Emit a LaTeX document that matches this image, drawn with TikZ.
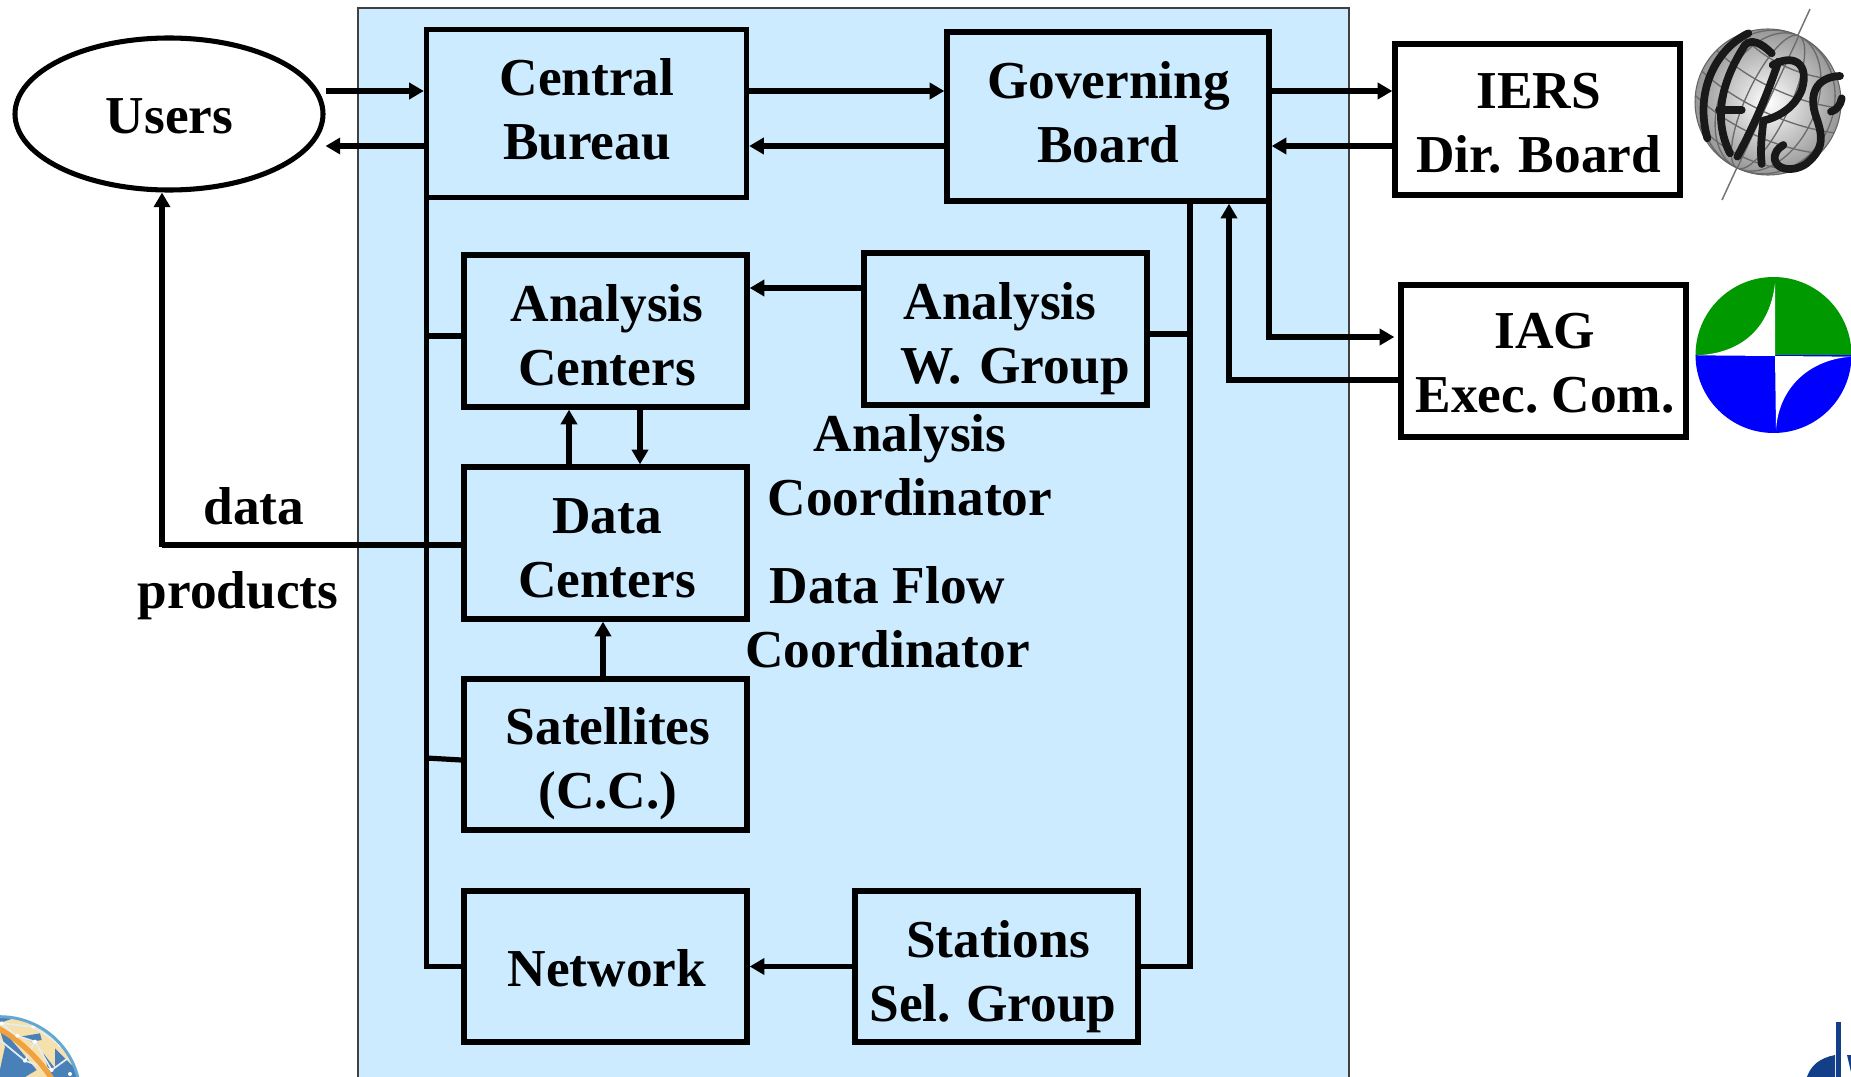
\documentclass[tikz,border=0pt]{standalone}
\usepackage{fontspec}
\setmainfont{Liberation Serif}
\usetikzlibrary{arrows.meta,shapes.geometric}
\definecolor{panelblue}{HTML}{CCEBFF}
\definecolor{iaggreen}{HTML}{009900}
\definecolor{iagblue}{HTML}{0000FF}
\definecolor{gocean}{HTML}{4A80B8}
\definecolor{gland}{HTML}{F6E0AC}
\definecolor{grim}{HTML}{62A8D2}
\definecolor{gband}{HTML}{EFA23F}
\definecolor{dnavy}{HTML}{123F88}
% text placed by its last baseline: dx right of and db below the node centre (px)
\newcommand\lbl[3]{\raisebox{\dimexpr-#2pt*3/4\relax}[0pt][0pt]{\makebox[0pt][l]{\kern\dimexpr#1pt*3/4\relax\makebox[0pt]{\begin{tabular}[b]{@{}c@{}}#3\end{tabular}}}}}
\newcommand\pk[1]{\kern\dimexpr#1pt*3/4\relax}
\tikzset{
  wh/.style 2 args={minimum width=#1*0.75pt,minimum height=#2*0.75pt},
  box/.style={draw=black,line width=4pt,rectangle,inner sep=0pt},
  wbox/.style={box,fill=white},
  free/.style={inner sep=0pt,outer sep=0pt,minimum size=0pt},
  conn/.style={line width=3.9pt,draw=black},
  arr/.style={conn,-{Triangle[length=11pt,width=12pt]}},
  every node/.style={font=\fontsize{40}{48}\selectfont\bfseries\frenchspacing,text=black},
}
\begin{document}
\begin{tikzpicture}[x=0.75pt,y=-0.75pt]
\useasboundingbox (0,0) rectangle (1851,1077);
\clip (0,0) rectangle (1851,1077);
% panel
\draw[fill=panelblue,draw=black!75,line width=1.6pt] (358,8) rectangle (1349,1090);
% boxes
\node[ellipse,draw=black,line width=3.8pt,inner sep=0pt,wh={308}{152}] (users) at (169,114) {\lbl{0.5}{19.5}{Users}};
\node[box,wh={320}{168}] (cb) at (586.5,113.5) {\lbl{0.5}{46.5}{Central\\Bureau}};
\node[box,wh={322}{169}] (gb) at (1108,116.5) {\lbl{0.5}{46}{Governing\\Board}};
\node[wbox,wh={285}{151}] (iers) at (1537.5,119.5) {\lbl{1}{53}{IERS\\Dir.\pk{4} Board}};
\node[wbox,wh={285}{152}] (iag) at (1543.5,361) {\lbl{1.5}{51}{IAG\\Exec. Com.}};
\node[box,wh={283}{152}] (ac) at (605.5,331) {\lbl{1.5}{54}{Analysis\\Centers}};
\node[box,wh={283}{152}] (awg) at (1005.5,329) {\lbl{9.5}{54}{Analysis\pk{30}\\W.\pk{4} Group}};
\node[box,wh={283}{152}] (dc) at (605.5,543) {\lbl{1.5}{54}{Data\\Centers}};
\node[box,wh={283}{151}] (sat) at (605.5,754.5) {\lbl{2.5}{54}{Satellites\\(C.C.)}};
\node[box,wh={283}{151}] (net) at (605.5,966.5) {\lbl{1.5}{19.5}{Network}};
\node[box,wh={283}{151}] (ssg) at (996.5,966.5) {\lbl{-3.5}{54.5}{\pk{10}Stations\\Sel.\pk{2} Group}};
% free labels
\node[free,anchor=base] (ldata) at (254,524) {data};
\node[free,anchor=base] (lprod) at (238,608) {products};
\node[free] (lac) at (910,515) {\lbl{0}{0}{Analysis\\Coordinator}};
\node[free] (ldf) at (887.5,667) {\lbl{0}{0}{Data Flow\\Coordinator}};
% connectors
\draw[arr] (users.east |- 0,91) -- (cb.west |- 0,91);
\draw[arr] (cb.west |- 0,146) -- (users.east |- 0,146);
\draw[arr] (cb.east |- 0,91) -- (gb.west |- 0,91);
\draw[arr] (gb.west |- 0,146) -- (cb.east |- 0,146);
\draw[arr] (gb.east |- 0,91) -- (iers.west |- 0,91);
\draw[arr] (iers.west |- 0,146) -- (gb.east |- 0,146);
\draw[arr,shorten >=3pt] (gb.south east) ++(-2.6,0) coordinate (gbr) -- (gbr |- 0,337) -- (iag.west |- 0,337);
\draw[arr] (iag.west |- 0,380) -- (1229,380) -- (1229,0 |- gb.south);
\draw[conn] (1190,0 |- gb.south) -- (1190,966.5) -- (ssg.east);
\draw[conn] (awg.east |- 0,334) -- (1190,334);
\draw[arr] (awg.west |- 0,288) -- (ac.east |- 0,288);
\draw[conn] (cb.south west) ++(2.6,-2) coordinate (cbl) -- (cbl |- net.west) -- (net.west);
\draw[conn] (cbl |- 0,336) -- (ac.west |- 0,336);
\draw[conn] (cbl |- 0,758) -- (sat.west |- 0,760);
\draw[conn] (dc.west |- 0,545) -- (162,545);
\draw[arr] (162,547) -- (162,0 |- users.south);
\draw[arr] (569,0 |- dc.north) -- (569,0 |- ac.south);
\draw[arr] (640,0 |- ac.south) -- (640,0 |- dc.north);
\draw[arr] (603,0 |- sat.north) -- (603,0 |- dc.south);
\draw[arr] (ssg.west) -- (net.east);
% IERS logo
\draw[black!55,line width=1.1pt] (1810,9) -- (1722,200);
\begin{scope}
  \clip (1768,102) circle[radius=73];
  \shade[inner color=white,outer color=black!42] (1768,102) circle[radius=75];
  \begin{scope}[shift={(1768,102)},rotate=-25,draw=black!58,line width=1pt]
    \foreach \k in {0.3,0.65,0.9}{\draw (0,0) ellipse[x radius=\k*73,y radius=73];}
    \draw (0,-73) -- (0,73);
    \foreach \h/\w in {-50/53,-25/68,0/73,25/68,50/53}{
      \draw (-\w,\h) .. controls (-\w*0.4,\h+14) and (\w*0.4,\h+14) .. (\w,\h);}
  \end{scope}
\end{scope}
\draw[black!60,line width=.8pt] (1768,102) circle[radius=73];
\begin{scope}[shift={(1650,0)},x=0.25pt,y=-0.25pt,draw=black!90,line width=5.8pt,line cap=round,line join=round]
  \draw (295,100) .. controls (210,140) and (130,260) .. (172,415);
  \draw (365,160) .. controls (335,130) and (305,115) .. (285,135) .. controls (230,220) and (180,340) .. (240,460);
  \draw (207,330) -- (275,330);
  \draw (385,185) .. controls (350,290) and (310,380) .. (262,470);
  \draw (368,195) .. controls (430,160) and (480,190) .. (455,270) .. controls (435,320) and (390,350) .. (340,362);
  \draw (340,362) .. controls (335,410) and (330,450) .. (335,492);
  \draw (570,228) .. controls (510,230) and (475,270) .. (495,340) .. controls (515,400) and (530,440) .. (470,490) .. controls (430,520) and (365,510) .. (375,465) .. controls (380,445) and (395,440) .. (400,435);
  \draw (543,335) .. controls (560,330) and (572,315) .. (575,295);
\end{scope}
% IAG logo
\begin{scope}
  \clip (1690,270) rectangle (1860,355.5);
  \fill[iaggreen] (1773.5,355) circle[radius=78];
\end{scope}
\begin{scope}
  \clip (1690,355.5) rectangle (1860,440);
  \fill[iagblue] (1773.5,355) circle[radius=78];
\end{scope}
\begin{scope}[shift={(1650,0)},x=0.25pt,y=-0.25pt]
  \fill[white] (375,850) .. controls (360,980) and (280,1060) .. (140,1066) -- (375,1068) -- cycle;
  \fill[white] (378,1290) .. controls (385,1170) and (470,1080) .. (603,1070) -- (375,1068) -- cycle;
\end{scope}
% bottom-left globe
\begin{scope}[shift={(0,990)},x=0.25pt,y=-0.25pt]
  \begin{scope}
    \clip (0,321) circle[radius=240];
    \fill[gland] (-10,60) rectangle (260,270);
    \fill[gocean] (-5,60) -- (40,85) -- (-5,100) -- cycle;
    \fill[gocean] (-5,105) -- (15,170) -- (-5,261) -- (-5,270) -- (60,270) -- (110,240) -- (60,180) -- cycle;
    \fill[gocean] (60,140) -- (120,130) -- (125,150) -- (95,155) -- cycle;
    \fill[gocean] (155,270) -- (130,190) -- (165,235) -- (165,175) -- (205,215) -- (240,250) -- (240,270) -- cycle;
    \draw[white!85!gocean,line width=1.3pt] (5,100) -- (100,110) -- (180,165) -- (210,200) -- (155,240) -- (105,155) -- (45,135) -- (5,100);
    \draw[white!85!gocean,line width=1.3pt] (105,155) -- (75,212) -- (0,150);
    \draw[white!85!gocean,line width=1.3pt] (75,212) -- (155,240);
    \draw[gband,line width=4pt] (-5,115) .. controls (60,150) and (120,210) .. (158,270);
    \foreach \p in {(5,100),(100,110),(105,155),(180,165),(210,198),(75,212),(155,240),(210,252),(52,137)}{
      \fill[white] \p circle[radius=6];}
  \end{scope}
  \draw[grim,line width=2.2pt] (0,321) circle[radius=241];
\end{scope}
% bottom-right logo
\fill[dnavy] (1836,1022) rectangle (1841,1080);
\fill[dnavy] (1835,1055) .. controls (1820,1058) and (1810,1065) .. (1806,1080) -- (1835,1080) -- cycle;
\fill[dnavy] (1847,1055) -- (1851,1055) -- (1851,1072) -- cycle;
\end{tikzpicture}
\end{document}
